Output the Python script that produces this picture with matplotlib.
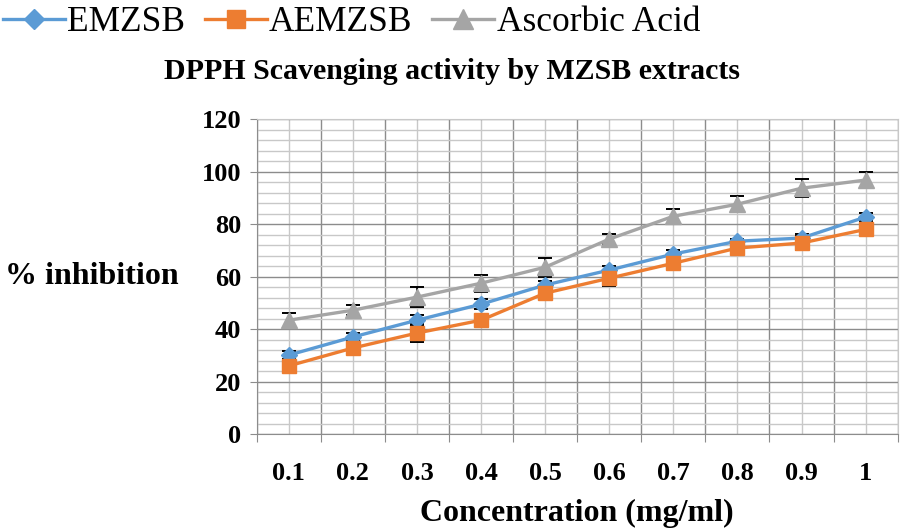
import numpy as np
import matplotlib.pyplot as plt
from matplotlib.ticker import MultipleLocator, FixedLocator

conc = ['0.1', '0.2', '0.3', '0.4', '0.5', '0.6', '0.7', '0.8', '0.9', '1']
emzsb = [30.1, 37.0, 43.4, 49.5, 56.8, 62.5, 68.6, 73.5, 74.7, 82.7]
emzsb_err = [1.5, 1.5, 2.0, 2.0, 1.5, 1.5, 1.5, 1.0, 1.5, 1.5]
aemzsb = [26.0, 32.8, 38.5, 43.4, 53.7, 59.4, 65.1, 70.9, 72.8, 78.0]
aemzsb_err = [1.5, 1.5, 3.5, 1.5, 1.5, 3.0, 1.5, 1.5, 2.5, 1.5]
ascorbic = [43.4, 47.2, 52.2, 57.5, 63.6, 74.3, 83.0, 87.6, 93.7, 96.8]
ascorbic_err = [2.9, 2.0, 3.8, 3.2, 3.6, 2.0, 2.9, 3.0, 3.4, 2.9]

serif = 'Liberation Serif'

fig = plt.figure(figsize=(9.04, 5.32), dpi=100)
ax = fig.add_axes([0.284, 0.184, 0.709, 0.592])

x = np.arange(len(conc)) + 0.5

series = [
    (emzsb, emzsb_err, '#5B9BD5', 'D', 8, 'EMZSB'),
    (aemzsb, aemzsb_err, '#ED7D31', 's', 10, 'AEMZSB'),
    (ascorbic, ascorbic_err, '#A5A5A5', '^', 11, 'Ascorbic Acid'),
]
handles = []
for y, e, c, m, ms, lab in series:
    ax.errorbar(x, y, yerr=e, fmt='none', ecolor='black', elinewidth=1.2,
                capsize=5, capthick=1.4, zorder=3)
    h, = ax.plot(x, y, color=c, marker=m, markersize=ms, linewidth=2.4,
                 label=lab, zorder=4)
    handles.append(h)

ax.set_xlim(0, len(conc))
ax.set_ylim(0, 120)
ax.yaxis.set_major_locator(MultipleLocator(20))
ax.yaxis.set_minor_locator(MultipleLocator(4))
ax.xaxis.set_major_locator(FixedLocator(np.arange(len(conc) + 1)))
ax.xaxis.set_minor_locator(FixedLocator(x))
ax.set_xticklabels([])
ax.set_xticks(x, conc, minor=True)

ax.grid(which='major', color='#8c8c8c', linewidth=1.0)
ax.grid(which='minor', color='#c8c8c8', linewidth=1.0)
ax.set_axisbelow(True)
for s in ['top', 'right']:
    ax.spines[s].set_color('#c8c8c8')
for s in ['left', 'bottom']:
    ax.spines[s].set_color('#8c8c8c')

ax.tick_params(axis='x', which='major', length=6, color='#8c8c8c', direction='out')
ax.tick_params(axis='x', which='minor', length=0, pad=20)
ax.tick_params(axis='y', which='major', length=5, color='#8c8c8c', pad=6)
ax.tick_params(axis='y', which='minor', length=0)
for lbl in ax.get_xticklabels(minor=True) + ax.get_yticklabels():
    lbl.set_fontfamily(serif)
    lbl.set_fontweight('bold')
    lbl.set_fontsize(19)

ax.set_xlabel('Concentration (mg/ml)', fontfamily=serif, fontweight='bold',
              fontsize=23, labelpad=10)
fig.text(0.006, 0.48, '% inhibition', fontfamily=serif, fontweight='bold',
         fontsize=23, ha='left', va='center')
fig.text(0.50, 0.865, 'DPPH Scavenging activity by MZSB extracts',
         fontfamily=serif, fontweight='bold', fontsize=21.5, ha='center', va='center')

fig.legend(handles=handles, loc='upper left', bbox_to_anchor=(0.003, 0.988),
           ncol=3, frameon=False, prop={'family': serif, 'size': 25.5},
           borderpad=0, borderaxespad=0,
           handlelength=1.75, handletextpad=0.07, columnspacing=0.55,
           markerscale=1.3)

fig.savefig('out.png', dpi=100)
